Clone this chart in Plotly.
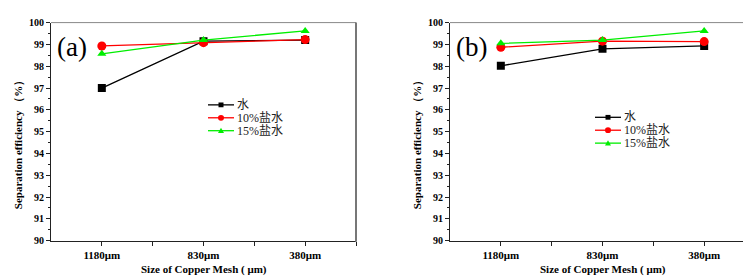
import plotly.graph_objects as go

categories = ["1180μm", "830μm", "380μm"]
series_names = ["水", "10%盐水", "15%盐水"]

# panel (a)
a_water = [97.0, 99.15, 99.2]
a_brine10 = [98.93, 99.08, 99.22]
a_brine15 = [98.57, 99.2, 99.62]

# panel (b)
b_water = [98.02, 98.8, 98.93]
b_brine10 = [98.87, 99.15, 99.13]
b_brine15 = [99.05, 99.2, 99.62]

y_ticks = [90, 91, 92, 93, 94, 95, 96, 97, 98, 99, 100]

colors = ["#000000", "#ff0000", "#00ee00"]
symbols = ["square", "circle", "triangle-up"]
msizes = [8, 9, 8]

W, H = 751, 276
fig = go.Figure()

xidx = list(range(len(categories)))
panels = [
    ("x", "y", [a_water, a_brine10, a_brine15]),
    ("x2", "y2", [b_water, b_brine10, b_brine15]),
]
for xa, ya, data in panels:
    for i, vals in enumerate(data):
        fig.add_trace(go.Scatter(
            x=xidx, y=vals, xaxis=xa, yaxis=ya, mode="lines+markers",
            name=series_names[i], showlegend=False,
            line=dict(color=colors[i], width=1.3),
            marker=dict(symbol=symbols[i], size=msizes[i], color=colors[i]),
        ))

def px_x(p):
    return p / W

def px_y(p):
    return 1 - p / H

top, bot = 9, 237
doms = [(43, 348), (442, 747)]
font_tick = dict(family="Liberation Serif", size=10, color="#000")
ax_common = dict(showgrid=False, zeroline=False, showline=True, linecolor="#222",
                 linewidth=1, ticks="outside", ticklen=4, tickcolor="#222",
                 tickfont=font_tick)
layout = dict(width=W, height=H, margin=dict(l=0, r=0, t=0, b=0),
              plot_bgcolor="white", paper_bgcolor="white", showlegend=False)
for k, (l, r) in enumerate(doms):
    sx = "xaxis" if k == 0 else "xaxis2"
    sy = "yaxis" if k == 0 else "yaxis2"
    layout[sx] = dict(ax_common, domain=[px_x(l), px_x(r)], range=[-0.5, 2.5],
                      tickmode="array", tickvals=xidx,
                      ticktext=["<b>%s</b>" % c for c in categories],
                      tickfont=dict(family="Liberation Serif", size=11, color="#000"),
                      anchor="y" if k == 0 else "y2",
                      minor=dict(tickmode="array", tickvals=[0.5, 1.5, 2.5], ticks="outside",
                                 ticklen=4, tickcolor="#222"))
    layout[sy] = dict(ax_common, domain=[px_y(bot), px_y(top)], range=[90, 100],
                      tickmode="array", tickvals=y_ticks,
                      ticktext=["<b>%d</b>" % v for v in y_ticks],
                      anchor="x" if k == 0 else "x2",
                      minor=dict(dtick=0.5, tick0=90, ticks="outside", ticklen=2, tickcolor="#222"))
fig.update_layout(**layout)

shapes = []
annotations = []
for k, (l, r) in enumerate(doms):
    # frame top and right in gray
    shapes.append(dict(type="line", xref="paper", yref="paper", x0=px_x(l), x1=px_x(r),
                       y0=px_y(top), y1=px_y(top), line=dict(color="#888", width=1)))
    shapes.append(dict(type="line", xref="paper", yref="paper", x0=px_x(r), x1=px_x(r),
                       y0=px_y(top), y1=px_y(bot + 1), line=dict(color="#777", width=2)))
    cx = (l + r) / 2
    annotations.append(dict(text="<b>Size of Copper Mesh ( μm)</b>", xref="paper", yref="paper",
                            x=px_x(cx), y=px_y(267), xanchor="center", yanchor="middle",
                            showarrow=False, font=dict(family="Liberation Serif", size=11, color="#000")))
    annotations.append(dict(text="<b>Separation efficiency （%）</b>", xref="paper", yref="paper",
                            x=px_x(l - 33), y=px_y(134), xanchor="center", yanchor="middle",
                            textangle=-90, showarrow=False,
                            font=dict(family="Liberation Serif", size=11, color="#000")))
    annotations.append(dict(text="(a)" if k == 0 else "(b)", xref="paper", yref="paper",
                            x=px_x(l + 4), y=px_y(35), xanchor="left", yanchor="middle",
                            showarrow=False, font=dict(family="Liberation Serif", size=27, color="#000")))

# manual legends
leg_pos = [(200, 95), (587, 108)]
for (lx, ly) in leg_pos:
    for i, name in enumerate(series_names):
        yy = ly + i * 13.5
        shapes.append(dict(type="line", xref="paper", yref="paper", x0=px_x(lx), x1=px_x(lx + 26),
                           y0=px_y(yy), y1=px_y(yy), line=dict(color=colors[i], width=1.3)))
        mx = lx + 13
        s = 2.5
        if i == 0:
            shapes.append(dict(type="rect", xref="paper", yref="paper", x0=px_x(mx - s), x1=px_x(mx + s),
                               y0=px_y(yy - s), y1=px_y(yy + s), fillcolor=colors[i], line=dict(width=0)))
        elif i == 1:
            shapes.append(dict(type="circle", xref="paper", yref="paper", x0=px_x(mx - 3), x1=px_x(mx + 3),
                               y0=px_y(yy - 3), y1=px_y(yy + 3), fillcolor=colors[i], line=dict(width=0)))
        else:
            path = "M %f %f L %f %f L %f %f Z" % (px_x(mx - 3), px_y(yy + 2.5), px_x(mx + 3), px_y(yy + 2.5),
                                                 px_x(mx), px_y(yy - 3))
            shapes.append(dict(type="path", xref="paper", yref="paper", path=path,
                               fillcolor=colors[i], line=dict(width=0)))
        annotations.append(dict(text=name, xref="paper", yref="paper", x=px_x(lx + 27), y=px_y(yy),
                                xanchor="left", yanchor="middle", showarrow=False,
                                font=dict(family="Liberation Serif, Noto Sans CJK SC", size=12, color="#222")))

fig.update_layout(shapes=shapes, annotations=annotations)
fig.write_html("out.html")
